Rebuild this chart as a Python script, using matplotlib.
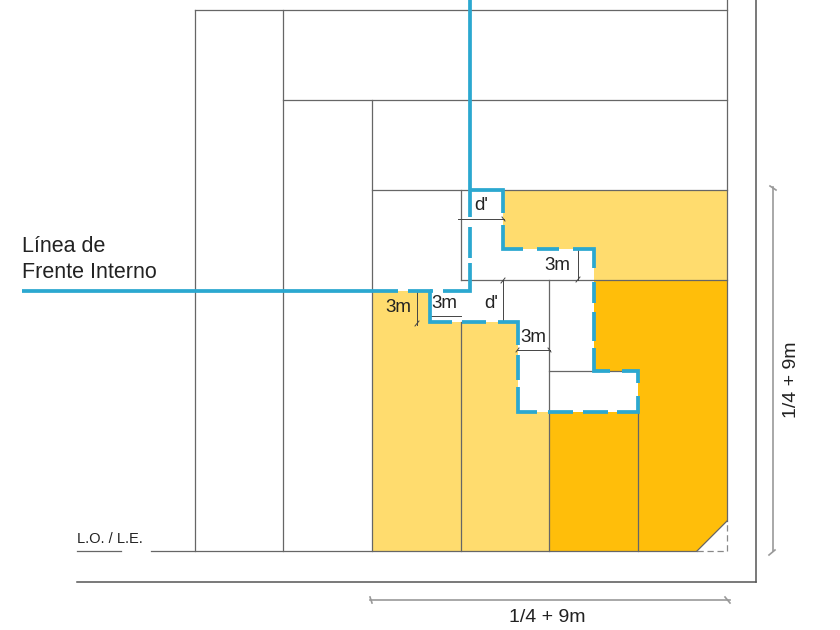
import matplotlib.pyplot as plt

plt.rcParams['font.family'] = ['Liberation Sans', 'DejaVu Sans']

light_top = [(503, 190), (727, 190), (727, 280), (594, 280), (594, 249), (503, 249)]
light_low = [(372, 291), (430, 291), (430, 322), (518, 322), (518, 412), (549, 412), (549, 551), (372, 551)]
dark = [(594, 280), (727, 280), (727, 521), (697, 551), (549, 551), (549, 412), (638, 412), (638, 371), (594, 371)]

# lot lines as x0, y0, x1, y1
lot_lines = [
    (195, 10, 195, 551), (283, 10, 283, 551), (372, 100, 372, 551),
    (727, 0, 727, 521), (195, 10, 727, 10), (283, 100, 727, 100),
    (372, 190, 727, 190), (461, 280, 727, 280), (461, 190, 461, 280),
    (461, 322, 461, 551), (549, 280, 549, 551), (638, 412, 638, 551),
    (549, 371, 638, 371), (151, 551, 697, 551), (77, 551, 121, 551),
    (697, 551, 727, 521),
]
block_lines = [(77, 582, 756, 582), (756, 0, 756, 582)]
chamfer = [(697, 551), (727, 551), (727, 521)]

dim_lines = [
    (417, 291, 417, 325), (430, 316, 461, 316), (503, 280, 503, 322),
    (578, 250, 578, 280), (517, 350, 550, 350), (458, 219, 504, 219),
]
dim_ticks = [
    (415, 326, 419, 321), (501, 283, 505, 278), (576, 282, 580, 277),
    (516, 352, 519, 348), (548, 348, 551, 352), (502, 217, 505, 221),
]
long_dims = [(773, 187, 773, 551), (370, 600, 730, 600)]
long_ticks = [(769, 555, 775, 550), (770, 186, 776, 190), (370, 597, 372, 603), (725, 597, 730, 603)]

blue_runs = [
    [(470, 0), (470, 217)],
    [(470, 227), (470, 258)],
    [(470, 263), (470, 291), (443, 291)],
    [(22, 291), (398, 291)],
    [(408, 291), (430, 291), (430, 322), (452, 322)],
    [(430, 291), (433, 291)],
    [(462, 322), (486, 322)],
    [(498, 322), (518, 322), (518, 345)],
    [(518, 355), (518, 380)],
    [(518, 387), (518, 412), (537, 412)],
    [(548, 412), (573, 412)],
    [(583, 412), (608, 412)],
    [(617, 412), (638, 412), (638, 396)],
    [(638, 383), (638, 371), (622, 371)],
    [(610, 371), (594, 371), (594, 348)],
    [(594, 341), (594, 312)],
    [(594, 303), (594, 282)],
    [(594, 268), (594, 249), (573, 249)],
    [(559, 249), (537, 249)],
    [(523, 249), (503, 249), (503, 225)],
    [(503, 213), (503, 190), (470, 190)],
]

labels = [
    (22, 246, 'Línea de', 15.5), (22, 272, 'Frente Interno', 15.5),
    (398, 307, '3m', 13.5), (444, 304, '3m', 13.5), (491, 303, "d'", 13.5),
    (557, 265, '3m', 13.5), (533, 338, '3m', 13.5), (481, 206, "d'", 13.5),
    (547, 617, '1/4 + 9m', 14), (77, 539, 'L.O. / L.E.', 10.5),
]

fig = plt.figure(figsize=(8.4, 6.3), dpi=100)
ax = fig.add_axes([0, 0, 1, 1])
ax.set_xlim(0, 840)
ax.set_ylim(630, 0)
ax.axis('off')

ax.fill(*zip(*light_top), color='#FFDC6E', lw=0)
ax.fill(*zip(*light_low), color='#FFDC6E', lw=0)
ax.fill(*zip(*dark), color='#FFBE0A', lw=0)

for x0, y0, x1, y1 in lot_lines:
    ax.plot([x0, x1], [y0, y1], color='#666666', lw=0.9)
for x0, y0, x1, y1 in block_lines:
    ax.plot([x0, x1], [y0, y1], color='#555555', lw=1.1)
for x0, y0, x1, y1 in dim_lines + dim_ticks:
    ax.plot([x0, x1], [y0, y1], color='#444444', lw=0.7)
for x0, y0, x1, y1 in long_dims + long_ticks:
    ax.plot([x0, x1], [y0, y1], color='#999999', lw=1.2)
ax.plot(*zip(*chamfer), color='#888888', lw=0.9, ls=(0, (5, 3)))

for run in blue_runs:
    ax.plot(*zip(*run), color='#2BA8D0', lw=2.7, solid_capstyle='butt',
            solid_joinstyle='miter', zorder=4)

for x, y, s, size in labels:
    ha = 'left' if x in (22, 77) else 'center'
    ax.text(x, y, s, fontsize=size, ha=ha, va='center', color='#222222', zorder=5)
ax.text(791, 380, '1/4 + 9m', fontsize=14, rotation=90, ha='center', va='center', color='#222222')

fig.savefig('out.png', dpi=100)
